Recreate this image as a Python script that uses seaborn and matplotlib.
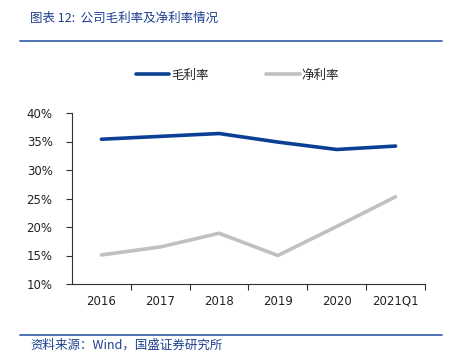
import pandas as pd
import seaborn as sns
import matplotlib.pyplot as plt
from matplotlib.lines import Line2D
from matplotlib.ticker import PercentFormatter

# data
years = ['2016', '2017', '2018', '2019', '2020', '2021Q1']
gross_margin = [35.4, 35.9, 36.4, 34.9, 33.6, 34.2]
net_margin = [15.1, 16.5, 18.9, 15.0, 20.1, 25.3]
series_names = ['毛利率', '净利率']

sns.set_theme(style='ticks')
plt.rcParams['font.family'] = ['Noto Sans CJK SC', 'DejaVu Sans']

blue = '#0B3F94'
gray = '#C0C0C0'

df = pd.DataFrame({'year': years * 2,
                   'value': gross_margin + net_margin,
                   'series': [series_names[0]] * len(years) + [series_names[1]] * len(years)})
df['x'] = list(range(len(years))) * 2

fig = plt.figure(figsize=(4.54, 3.56), dpi=100)
ax = fig.add_axes([72 / 454, 1 - 284 / 356, (425 - 72) / 454, (284 - 113) / 356])

sns.lineplot(data=df, x='x', y='value', hue='series', palette=[blue, gray],
             linewidth=2.6, legend=False, ax=ax)

ax.set_xlim(-0.5, len(years) - 0.5)
ax.set_ylim(10, 40)
ax.set_yticks(range(10, 41, 5))
ax.yaxis.set_major_formatter(PercentFormatter(decimals=0))
ax.set_xticks([i + 0.5 for i in range(len(years))])
ax.set_xticklabels([])
ax.set_xticks(range(len(years)), minor=True)
ax.set_xticklabels(years, minor=True, va='baseline', family='DejaVu Sans')
ax.tick_params(axis='x', which='minor', length=0, pad=15, labelsize=8.5)
ax.tick_params(axis='x', which='major', length=4, width=0.8, color='#333333', direction='out')
ax.tick_params(axis='y', length=4, width=0.8, color='#333333', labelsize=8.5, pad=10)
for lbl in ax.get_yticklabels() + ax.get_xticklabels(minor=True):
    lbl.set_color('#222222')
    lbl.set_family('DejaVu Sans')
ax.set_xlabel('')
ax.set_ylabel('')
for s in ['top', 'right']:
    ax.spines[s].set_visible(False)
for s in ['left', 'bottom']:
    ax.spines[s].set_color('#333333')
    ax.spines[s].set_linewidth(0.8)

# legend
handles = [Line2D([], [], color=blue, lw=2.6), Line2D([], [], color=gray, lw=2.6)]
fig.legend(handles, series_names, loc='center', bbox_to_anchor=(0.523, 1 - 75 / 356),
           ncol=2, frameon=False, fontsize=9, handlelength=2.7, handletextpad=0.15,
           columnspacing=4.6)

# title, rules and source
fig.text(30 / 454, 1 - 18 / 356, '图表 12:  公司毛利率及净利率情况', color='#1F3F8F',
         fontsize=9, style='italic', va='center', ha='left')
fig.add_artist(Line2D([20 / 454, 442 / 454], [1 - 41 / 356] * 2, color='#2E5BA8', lw=1.2))
fig.add_artist(Line2D([20 / 454, 442 / 454], [1 - 335 / 356] * 2, color='#2E5BA8', lw=1.2))
fig.text(30 / 454, 1 - 345 / 356, '资料来源：Wind，国盛证券研究所', color='#1F3F8F',
         fontsize=9, style='italic', va='center', ha='left')

fig.savefig('out.png', dpi=100)
